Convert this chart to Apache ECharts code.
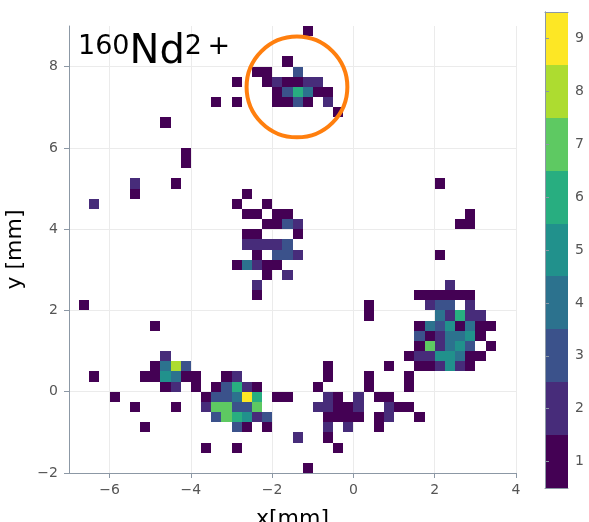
<!DOCTYPE html>
<html>
<head>
<meta charset="utf-8">
<script src="https://cdn.jsdelivr.net/npm/echarts@6/dist/echarts.min.js"></script>
<style>
  html, body { margin: 0; padding: 0; background: #fff; }
  #chart { width: 589px; height: 522px; }
</style>
</head>
<body>
<div id="chart"></div>
<script>
// histogram bin width (mm), bins are aligned on multiples of it
const binWidth = 0.25

// bin centres [x mm, y mm, counts]
const topCluster = [
  [-1.125, 8.875, 1],
  [-1.625, 8.125, 1],
  [-2.375, 7.875, 1], [-2.125, 7.875, 1], [-1.375, 7.875, 3],
  [-2.875, 7.625, 1], [-2.125, 7.625, 1], [-1.875, 7.625, 2], [-1.625, 7.625, 1], [-1.375, 7.625, 1], [-1.125, 7.625, 2], [-0.875, 7.625, 2],
  [-1.875, 7.375, 1], [-1.625, 7.375, 3], [-1.375, 7.375, 6], [-1.125, 7.375, 4], [-0.875, 7.375, 1], [-0.625, 7.375, 1],
  [-3.375, 7.125, 1], [-2.875, 7.125, 1], [-1.875, 7.125, 1], [-1.625, 7.125, 1], [-1.375, 7.125, 3], [-1.125, 7.125, 1], [-0.625, 7.125, 2],
  [-0.375, 6.875, 1]
]

const scattered = [
  [-4.625, 6.625, 1], [-4.125, 5.875, 1], [-4.125, 5.625, 1], [-5.375, 5.125, 2], [-4.375, 5.125, 1],
  [-5.375, 4.875, 1], [-6.375, 4.625, 2], [-6.625, 2.125, 1], [-4.875, 1.625, 1],
  [2.125, 5.125, 1], [2.875, 4.375, 1], [2.625, 4.125, 1], [2.875, 4.125, 1], [2.125, 3.375, 1],
  [0.375, 2.125, 1], [0.375, 1.875, 1]
]

const midCluster = [
  [-2.625, 4.875, 1],
  [-2.875, 4.625, 1], [-2.125, 4.625, 1],
  [-2.625, 4.375, 1], [-2.375, 4.375, 1], [-1.875, 4.375, 1], [-1.625, 4.375, 1],
  [-2.125, 4.125, 1], [-1.875, 4.125, 1], [-1.625, 4.125, 3], [-1.375, 4.125, 2],
  [-2.625, 3.875, 1], [-2.375, 3.875, 1], [-1.375, 3.875, 1],
  [-2.625, 3.625, 2], [-2.375, 3.625, 2], [-2.125, 3.625, 2], [-1.875, 3.625, 2], [-1.625, 3.625, 3],
  [-2.375, 3.375, 1], [-1.875, 3.375, 3], [-1.625, 3.375, 3], [-1.375, 3.375, 2],
  [-2.875, 3.125, 1], [-2.625, 3.125, 4], [-2.375, 3.125, 2], [-2.125, 3.125, 1], [-1.875, 3.125, 1],
  [-2.125, 2.875, 1], [-1.625, 2.875, 2],
  [-2.375, 2.625, 2],
  [-2.375, 2.375, 1]
]

const rightCluster = [
  [2.375, 2.625, 2],
  [1.625, 2.375, 1], [1.875, 2.375, 1], [2.125, 2.375, 1], [2.375, 2.375, 1], [2.625, 2.375, 1], [2.875, 2.375, 1],
  [1.875, 2.125, 2], [2.125, 2.125, 3], [2.375, 2.125, 3], [2.875, 2.125, 2],
  [2.125, 1.875, 4], [2.375, 1.875, 2], [2.625, 1.875, 6], [2.875, 1.875, 2], [3.125, 1.875, 2],
  [1.625, 1.625, 1], [1.875, 1.625, 4], [2.125, 1.625, 3], [2.375, 1.625, 5], [2.625, 1.625, 1], [2.875, 1.625, 4], [3.125, 1.625, 1], [3.375, 1.625, 1],
  [1.625, 1.375, 3], [1.875, 1.375, 1], [2.125, 1.375, 2], [2.375, 1.375, 4], [2.625, 1.375, 4], [2.875, 1.375, 5], [3.125, 1.375, 1],
  [1.625, 1.125, 1], [1.875, 1.125, 7], [2.125, 1.125, 2], [2.375, 1.125, 4], [2.625, 1.125, 5], [2.875, 1.125, 3], [3.375, 1.125, 1],
  [1.375, 0.875, 1], [1.625, 0.875, 2], [1.875, 0.875, 2], [2.125, 0.875, 5], [2.375, 0.875, 5], [2.625, 0.875, 4], [2.875, 0.875, 1], [3.125, 0.875, 1],
  [0.875, 0.625, 1], [1.625, 0.625, 1], [1.875, 0.625, 1], [2.125, 0.625, 2], [2.375, 0.625, 5], [2.625, 0.625, 2], [2.875, 0.625, 1],
  [1.375, 0.375, 1], [1.375, 0.125, 1]
]

const bottomLeftCluster = [
  [-4.625, 0.875, 2],
  [-4.875, 0.625, 1], [-4.625, 0.625, 4], [-4.375, 0.625, 8], [-4.125, 0.625, 3],
  [-6.375, 0.375, 1], [-5.125, 0.375, 1], [-4.875, 0.375, 1], [-4.625, 0.375, 5], [-4.375, 0.375, 4], [-4.125, 0.375, 1], [-3.875, 0.375, 1],
  [-4.625, 0.125, 1], [-4.375, 0.125, 2], [-3.875, 0.125, 1],
  [-5.875, -0.125, 1], [-3.625, -0.125, 1],
  [-5.375, -0.375, 1], [-4.375, -0.375, 1], [-3.625, -0.375, 2],
  [-5.125, -0.875, 1],
  [-3.625, -1.375, 1]
]

const bottomMidCluster = [
  [-3.125, 0.375, 1], [-2.875, 0.375, 2],
  [-3.375, 0.125, 1], [-3.125, 0.125, 3], [-2.875, 0.125, 6], [-2.625, 0.125, 2], [-2.375, 0.125, 1],
  [-3.375, -0.125, 3], [-3.125, -0.125, 3], [-2.875, -0.125, 4], [-2.625, -0.125, 9], [-2.375, -0.125, 6], [-1.875, -0.125, 1], [-1.625, -0.125, 1],
  [-3.375, -0.375, 7], [-3.125, -0.375, 7], [-2.875, -0.375, 3], [-2.625, -0.375, 3], [-2.375, -0.375, 7],
  [-3.375, -0.625, 3], [-3.125, -0.625, 7], [-2.875, -0.625, 6], [-2.625, -0.625, 5], [-2.375, -0.625, 2], [-2.125, -0.625, 3],
  [-2.875, -0.875, 3], [-2.625, -0.875, 1], [-2.125, -0.875, 1],
  [-1.375, -1.125, 2],
  [-2.875, -1.375, 1],
  [-1.125, -1.875, 1]
]

const bottomRightCluster = [
  [-0.625, 0.625, 1],
  [-0.625, 0.375, 1], [0.375, 0.375, 1],
  [-0.875, 0.125, 1], [0.375, 0.125, 1],
  [-0.625, -0.125, 2], [-0.375, -0.125, 1], [0.125, -0.125, 2], [0.625, -0.125, 1], [0.875, -0.125, 1],
  [-0.875, -0.375, 2], [-0.625, -0.375, 2], [-0.375, -0.375, 1], [-0.125, -0.375, 1], [0.125, -0.375, 2], [0.875, -0.375, 2], [1.125, -0.375, 1], [1.375, -0.375, 1],
  [-0.625, -0.625, 1], [-0.375, -0.625, 1], [-0.125, -0.625, 1], [0.125, -0.625, 1], [0.625, -0.625, 1], [0.875, -0.625, 2], [1.625, -0.625, 1],
  [-0.625, -0.875, 2], [-0.125, -0.875, 2], [0.625, -0.875, 1],
  [-0.625, -1.125, 1],
  [-0.375, -1.375, 1]
]

// orange marker [cx mm, cy mm, r mm]
const marker = [[-1.39, 7.5, 1.24]]

// colour bar levels
const levels = [1, 2, 3, 4, 5, 6, 7, 8, 9]
const levelColors = ['#440154', '#472c7a', '#3b528b', '#2c728e', '#21918c', '#28ae80', '#5ec962', '#addc30', '#fde725']

const xTicks = [-6, -4, -2, 0, 2, 4]
const yTicks = [-2, 0, 2, 4, 6, 8]

const cells = [].concat(topCluster, scattered, midCluster, rightCluster,
  bottomLeftCluster, bottomMidCluster, bottomRightCluster)

const FONT = 'DejaVu Sans'
const AXIS_COLOR = '#8c98a5'
const LABEL_COLOR = '#555'

const minus = v => (v < 0 ? '\u2212' + Math.abs(v) : String(v))

const mainAxis = (extra) => Object.assign({
  type: 'value',
  gridIndex: 0,
  nameLocation: 'middle',
  nameTextStyle: { fontSize: 22, color: '#000', fontFamily: FONT },
  axisLine: { show: true, onZero: false, lineStyle: { color: AXIS_COLOR, width: 1 } },
  splitLine: { show: true, lineStyle: { color: '#ebebeb', width: 1 } }
}, extra)

const chart = echarts.init(document.getElementById('chart'), null, { renderer: 'canvas' })

chart.setOption({
  animation: false,
  textStyle: { fontFamily: FONT },
  title: {
    left: 78,
    top: 33,
    padding: 0,
    text: '{sup|160}{big|Nd}{sup|2\u2009+}',
    textStyle: {
      fontWeight: 'normal',
      rich: {
        sup: { fontSize: 27, lineHeight: 27, verticalAlign: 'top', color: '#000', fontFamily: FONT, fontWeight: 'normal' },
        big: { fontSize: 40, lineHeight: 46, verticalAlign: 'top', color: '#000', fontFamily: FONT, fontWeight: 'normal' }
      }
    }
  },
  grid: [
    { left: 69, top: 26, width: 447, height: 447, outerBoundsMode: 'none', containLabel: false },
    { left: 545, top: 12, width: 23, height: 476, outerBoundsMode: 'none', containLabel: false }
  ],
  xAxis: [
    mainAxis({
      min: -7, max: 4,
      name: 'x[mm]', nameGap: 35,
      axisLabel: { fontSize: 14, color: LABEL_COLOR, fontFamily: FONT, formatter: minus, margin: 10, customValues: xTicks },
      axisTick: { show: true, length: 5, lineStyle: { color: AXIS_COLOR }, customValues: xTicks }
    }),
    { type: 'value', gridIndex: 1, min: 0, max: 1, position: 'bottom', z: 10,
      axisLine: { show: true, onZero: false, lineStyle: { color: AXIS_COLOR } },
      axisTick: { show: false }, axisLabel: { show: false }, splitLine: { show: false } },
    { type: 'value', gridIndex: 1, min: 0, max: 1, position: 'top', z: 10,
      axisLine: { show: true, onZero: false, lineStyle: { color: AXIS_COLOR } },
      axisTick: { show: false }, axisLabel: { show: false }, splitLine: { show: false } }
  ],
  yAxis: [
    mainAxis({
      min: -2, max: 9,
      name: 'y [mm]', nameGap: 38,
      axisLabel: { fontSize: 14, color: LABEL_COLOR, fontFamily: FONT, formatter: minus, margin: 11, customValues: yTicks },
      axisTick: { show: true, length: 5, lineStyle: { color: AXIS_COLOR }, customValues: yTicks }
    }),
    { type: 'category', gridIndex: 1, position: 'right', z: 10,
      data: levels.map(String),
      axisLine: { show: true, lineStyle: { color: AXIS_COLOR } },
      axisTick: { show: true, alignWithLabel: true, length: 4, lineStyle: { color: AXIS_COLOR } },
      axisLabel: { fontSize: 14, color: LABEL_COLOR, fontFamily: FONT, margin: 7 },
      splitLine: { show: false } },
    { type: 'category', gridIndex: 1, position: 'left', z: 10,
      data: levels.map(String),
      axisLine: { show: true, lineStyle: { color: AXIS_COLOR } },
      axisTick: { show: false }, axisLabel: { show: false }, splitLine: { show: false } }
  ],
  visualMap: {
    type: 'piecewise',
    show: false,
    dimension: 2,
    seriesIndex: [0, 2],
    pieces: levels.map((v, i) => ({ value: v, color: levelColors[i] }))
  },
  series: [
    {
      // 2D histogram cells
      type: 'custom',
      xAxisIndex: 0,
      yAxisIndex: 0,
      clip: true,
      data: cells,
      renderItem(params, api) {
        const x = api.value(0)
        const y = api.value(1)
        const p0 = api.coord([x - binWidth / 2, y + binWidth / 2])
        const p1 = api.coord([x + binWidth / 2, y - binWidth / 2])
        const x0 = Math.round(p0[0]), x1 = Math.round(p1[0])
        const y0 = Math.round(p0[1]), y1 = Math.round(p1[1])
        return {
          type: 'rect',
          shape: { x: x0, y: y0, width: x1 - x0, height: y1 - y0 },
          style: { fill: api.visual('color') }
        }
      }
    },
    {
      // orange marker circle
      type: 'custom',
      xAxisIndex: 0,
      yAxisIndex: 0,
      silent: true,
      z: 5,
      data: marker,
      renderItem(params, api) {
        const c = api.coord([api.value(0), api.value(1)])
        const r = api.size([api.value(2), 0])[0]
        return {
          type: 'circle',
          shape: { cx: c[0], cy: c[1], r: r },
          style: { fill: 'none', stroke: '#ff7f0e', lineWidth: 4 }
        }
      }
    },
    {
      // colour bar
      type: 'custom',
      xAxisIndex: 1,
      yAxisIndex: 1,
      data: levels.map((v, i) => [0, i, v]),
      renderItem(params, api) {
        const p = api.coord([0, api.value(1)])
        const s = api.size([1, 1])
        const y0 = Math.round(p[1] - s[1] / 2), y1 = Math.round(p[1] + s[1] / 2)
        return {
          type: 'rect',
          shape: { x: p[0], y: y0, width: s[0], height: y1 - y0 },
          style: { fill: api.visual('color') }
        }
      }
    }
  ]
})
</script>
</body>
</html>
